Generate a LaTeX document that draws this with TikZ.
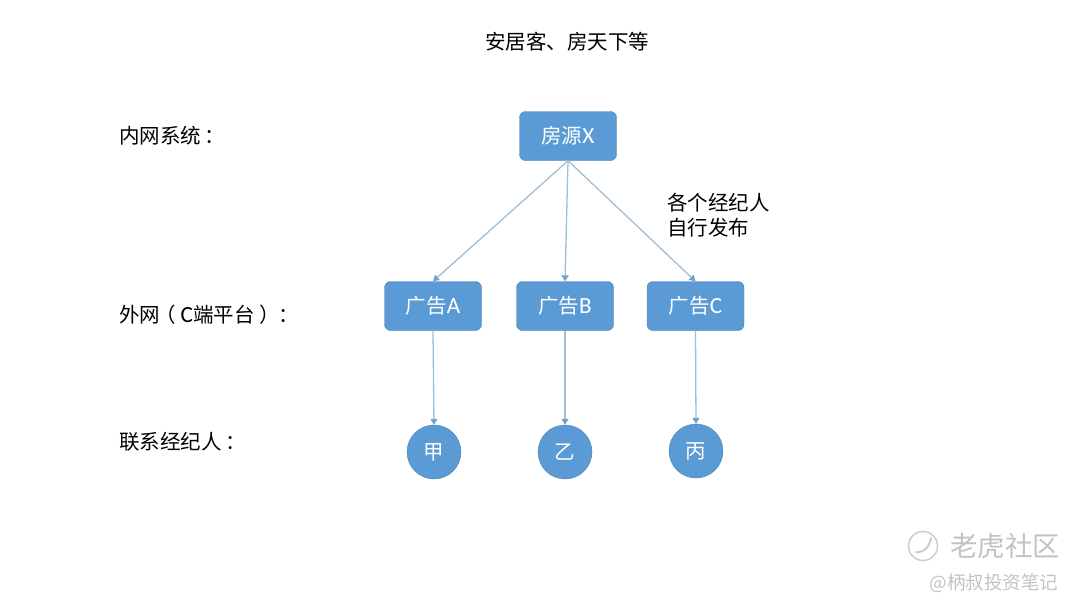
\documentclass[tikz,border=0pt]{standalone}
\usepackage{fontspec}
\usepackage{color}
\setmainfont{Noto Sans CJK SC}
\newfontfamily\latinfont[Scale=1.13]{Carlito}
\definecolor{boxblue}{HTML}{5B9BD5}
\definecolor{boxedge}{HTML}{4A7FAE}
\definecolor{linkblue}{HTML}{9DBFD8}
\definecolor{tipblue}{HTML}{6FA3C8}
\newcommand{\openparen}{\kern-5pt（\kern5pt}
\newcommand{\closeparen}{\kern5pt）\kern-5pt}
\newcommand{\widecolon}{\kern3.5pt：\kern-3.5pt}
\tikzset{
  adbox/.style={draw=boxedge, fill=boxblue, rounded corners=6pt, minimum width=97pt, minimum height=49pt, inner sep=0pt, text=white, font=\fontsize{20.5}{24}\selectfont},
  agent/.style={draw=boxedge, fill=boxblue, circle, minimum size=54pt, inner sep=0pt, text=white, font=\fontsize{20.5}{24}\selectfont},
  rowlabel/.style={anchor=west, inner sep=0pt, font=\fontsize{20.5}{24}\selectfont},
  link/.style={draw=linkblue, line width=1.3pt, -{Triangle[length=6pt,width=7pt,color=tipblue]}},
  wmark/.style={inner sep=0pt, text=black!24}
}
\usetikzlibrary{arrows.meta}
\begin{document}
\begin{tikzpicture}[x=1pt,y=-1pt]
\useasboundingbox (0,0) rectangle (1080,608);
\node [inner sep=0pt, font=\fontsize{20.5}{24}\selectfont] (title) at (567,42) {安居客、房天下等};
%% row labels
\node [rowlabel] (rowinner) at (119,136) {内网系统\widecolon};
\node [rowlabel] (rowouter) at (119,314.5) {外网\openparen{\latinfont C}端平台\closeparen\widecolon};
\node [rowlabel] (rowcontact) at (119,442) {联系经纪人\widecolon};
%% boxes
\node [adbox] (source) at (568,136) {房源{\latinfont X}};
\node [adbox] (adA) at (433,306) {广告{\latinfont A}};
\node [adbox] (adB) at (565,306) {广告{\latinfont B}};
\node [adbox] (adC) at (695.5,306) {广告{\latinfont C}};
%% agents
\node [agent] (jia) at (434,452) {甲};
\node [agent] (yi) at (565,452) {乙};
\node [agent] (bing) at (696,451) {丙};
\node [inner sep=0pt, anchor=west, align=left, font=\fontsize{20.5}{25}\selectfont] (note) at (667,215) {各个经纪人\\自行发布};
%% links
\draw [link] (source.south) -- (adA.north);
\draw [link] (source.south) -- (adB.north);
\draw [link] (source.south) -- (adC.north);
\draw [link] (adA.south) -- (jia.north);
\draw [link] (adB.south) -- (yi.north);
\draw [link] (adC.south) -- (bing.north);
%% watermark
\node [wmark, font=\fontsize{27.5}{30}\selectfont] (wmtop) at (1005,546) {老虎社区};
\node [wmark, font=\fontsize{18.5}{22}\selectfont] (wmbottom) at (994,583) {@柄叔投资笔记};
\node [draw=black!20, line width=1.5pt, circle, minimum size=29pt, inner sep=0pt] (wmicon) at (923,546) {};
\draw [black!20, line width=2pt, line cap=round] (916,552) .. controls (924,553) and (930,546) .. (931,538);
\end{tikzpicture}
\end{document}
